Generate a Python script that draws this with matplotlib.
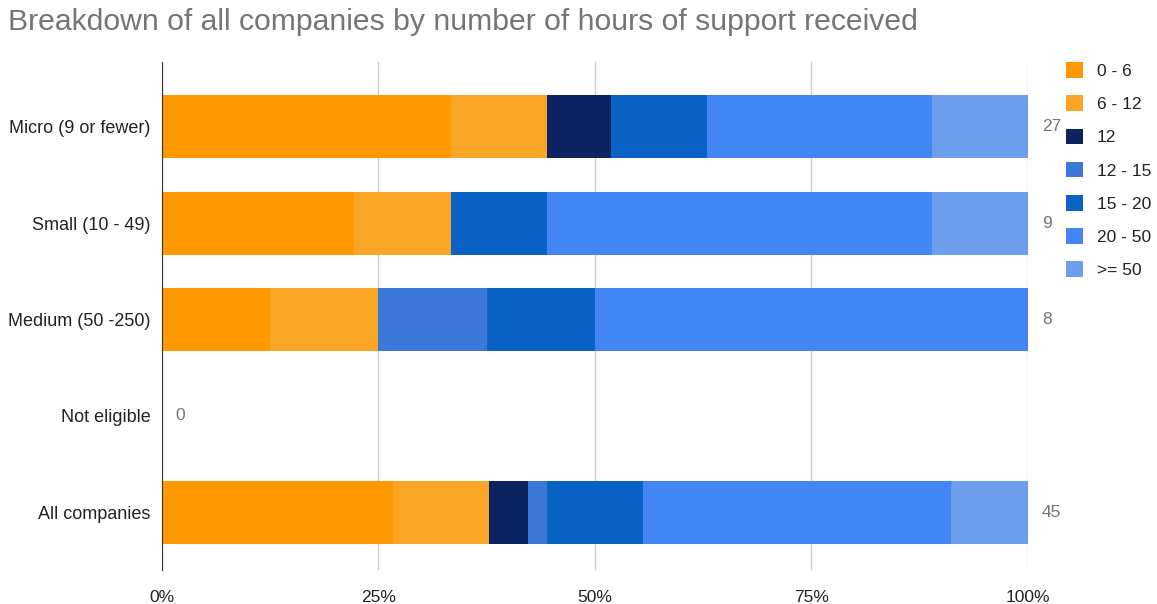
import numpy as np
import matplotlib
matplotlib.use("Agg")
import matplotlib.pyplot as plt
from matplotlib.patches import Patch

plt.rcParams['font.family'] = ['Liberation Sans', 'DejaVu Sans']

# companies per size band, counts of hours-of-support buckets
categories = ["Micro (9 or fewer)", "Small (10 - 49)", "Medium (50 -250)", "Not eligible", "All companies"]
buckets = ["0 - 6", "6 - 12", "12", "12 - 15", "15 - 20", "20 - 50", ">= 50"]
counts = [
    [9, 3, 2, 0, 3, 7, 3],    # Micro
    [2, 1, 0, 0, 1, 4, 1],    # Small
    [1, 1, 0, 1, 1, 4, 0],    # Medium
    [0, 0, 0, 0, 0, 0, 0],    # Not eligible
    [12, 5, 2, 1, 5, 16, 4],  # All companies
]
colors = ["#FF9900", "#FBA526", "#0B2461", "#3C78D8", "#0A63C4", "#4285F4", "#6D9EEB"]
xticks = [0, 25, 50, 75, 100]

counts = np.array(counts, dtype=float)
totals = counts.sum(axis=1)
pct = np.divide(counts * 100, totals[:, None], out=np.zeros_like(counts), where=totals[:, None] > 0)

fig = plt.figure(figsize=(11.57, 6.04), dpi=100)
ax = fig.add_axes([0.14, 0.056, 0.7485, 0.841])

y = np.arange(len(categories))
left = np.zeros(len(categories))
for i, b in enumerate(buckets):
    ax.barh(y, pct[:, i], left=left, height=0.65, color=colors[i], label=b, zorder=3)
    left += pct[:, i]

# totals shown to the right of each bar
for yi, tot, end in zip(y, totals, left):
    ax.text(end + 1.6, yi, f"{int(tot)}", va="center", ha="left", fontsize=12.5, color="#757575")

ax.set_xlim(0, 100)
ax.set_ylim(4.6, -0.67)
ax.set_yticks(y)
ax.set_yticklabels(categories, fontsize=13, color="#222222")
ax.set_xticks(xticks)
ax.set_xticklabels([f"{t}%" for t in xticks], fontsize=12.5, color="#222222")
ax.tick_params(axis="both", length=0)
ax.tick_params(axis="y", pad=8)
ax.tick_params(axis="x", pad=14)
ax.xaxis.grid(True, color="#CCCCCC", linewidth=1, zorder=0)
for s in ["top", "right", "bottom"]:
    ax.spines[s].set_visible(False)
ax.spines["left"].set_color("#333333")
ax.spines["left"].set_zorder(4)

handles = [Patch(facecolor=c, edgecolor="none") for c in colors]
fig.legend(handles, buckets, loc="upper left", bbox_to_anchor=(0.921, 0.897),
           frameon=False, fontsize=12.5, handlelength=1.0, handleheight=1.0,
           labelspacing=0.95, handletextpad=0.8, borderpad=0, borderaxespad=0,
           labelcolor="#222222")

fig.text(0.007, 0.94, "Breakdown of all companies by number of hours of support received",
         fontsize=21.7, color="#757575", ha="left", va="bottom")

fig.savefig("out.png", dpi=100, facecolor="white")
